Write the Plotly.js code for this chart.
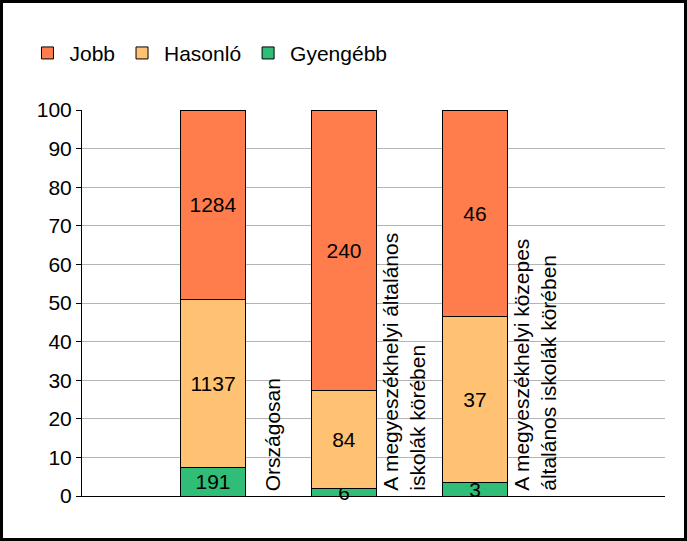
<!DOCTYPE html>
<html>
<head>
<meta charset="utf-8">
<script src="https://cdn.plot.ly/plotly-3.0.1.min.js"></script>
<style>
  html, body { margin: 0; padding: 0; background: #fff; }
  #frame { width: 687px; height: 541px; box-sizing: border-box; border: 3px solid #000; overflow: hidden; }
  #chart { width: 681px; height: 535px; }
</style>
</head>
<body>
<div id="frame"><div id="chart"></div></div>
<script>
// Categories (vertical labels next to each bar)
const categories = [
    'Országosan',
    'A megyeszékhelyi általános<br>iskolák körében',
    'A megyeszékhelyi közepes<br>általános iskolák körében'
];
const positions = [0, 1, 2];

// Counts per group (bars are normalised to 100 %)
const gyengebb = [191, 6, 3];
const hasonlo = [1137, 84, 37];
const jobb = [1284, 240, 46];

const FONT = 'Liberation Sans, Arial, sans-serif';
const FS = 21;

function barTrace(name, values, color) {
    return {
        type: 'bar',
        name: name,
        x: positions,
        y: values,
        text: values.map(String),
        texttemplate: '%{text}',
        textposition: 'inside',
        insidetextanchor: 'middle',
        textangle: 0,
        constraintext: 'none',
        cliponaxis: false,
        textfont: { family: FONT, size: FS, color: '#000' },
        width: 0.5,
        marker: { color: color, line: { color: '#000', width: 1 } },
        hoverinfo: 'name+text'
    };
}

const traces = [
    barTrace('Gyengébb', gyengebb, '#30bd77'),
    barTrace('Hasonló', hasonlo, '#ffc272'),
    barTrace('Jobb', jobb, '#ff7d4c')
];

// Category labels, rotated, to the right of each bar
const annotations = categories.map((c, i) => ({
    x: positions[i] + 0.25,
    y: 0,
    xref: 'x',
    yref: 'y',
    text: c,
    textangle: -90,
    align: 'left',
    xanchor: 'center',
    yanchor: 'bottom',
    xshift: 27,
    yshift: 3,
    showarrow: false,
    font: { family: FONT, size: FS, color: '#000' }
}));

const layout = {
    width: 681,
    height: 535,
    margin: { l: 79, r: 19, t: 107, b: 42 },
    barmode: 'stack',
    barnorm: 'percent',
    paper_bgcolor: '#ffffff',
    plot_bgcolor: '#ffffff',
    font: { family: FONT, size: FS, color: '#000' },
    showlegend: true,
    legend: {
        orientation: 'h',
        traceorder: 'reversed',
        xref: 'container',
        yref: 'container',
        x: 0.033,
        y: 0.906,
        xanchor: 'left',
        yanchor: 'middle',
        itemwidth: 34,
        font: { family: FONT, size: FS, color: '#000' }
    },
    xaxis: {
        range: [-1.0, 3.45],
        showticklabels: false,
        ticks: '',
        showgrid: false,
        zeroline: false,
        showline: true,
        linecolor: '#000',
        linewidth: 1,
        fixedrange: true
    },
    yaxis: {
        range: [0, 100],
        dtick: 10,
        ticks: 'outside',
        ticklen: 5,
        tickcolor: '#000',
        showline: true,
        linecolor: '#000',
        linewidth: 1,
        gridcolor: '#b4b4b4',
        gridwidth: 1,
        zeroline: false,
        tickfont: { family: FONT, size: FS, color: '#000' },
        fixedrange: true
    },
    annotations: annotations
};

Plotly.newPlot('chart', traces, layout, { displayModeBar: false, staticPlot: true });
</script>
</body>
</html>
